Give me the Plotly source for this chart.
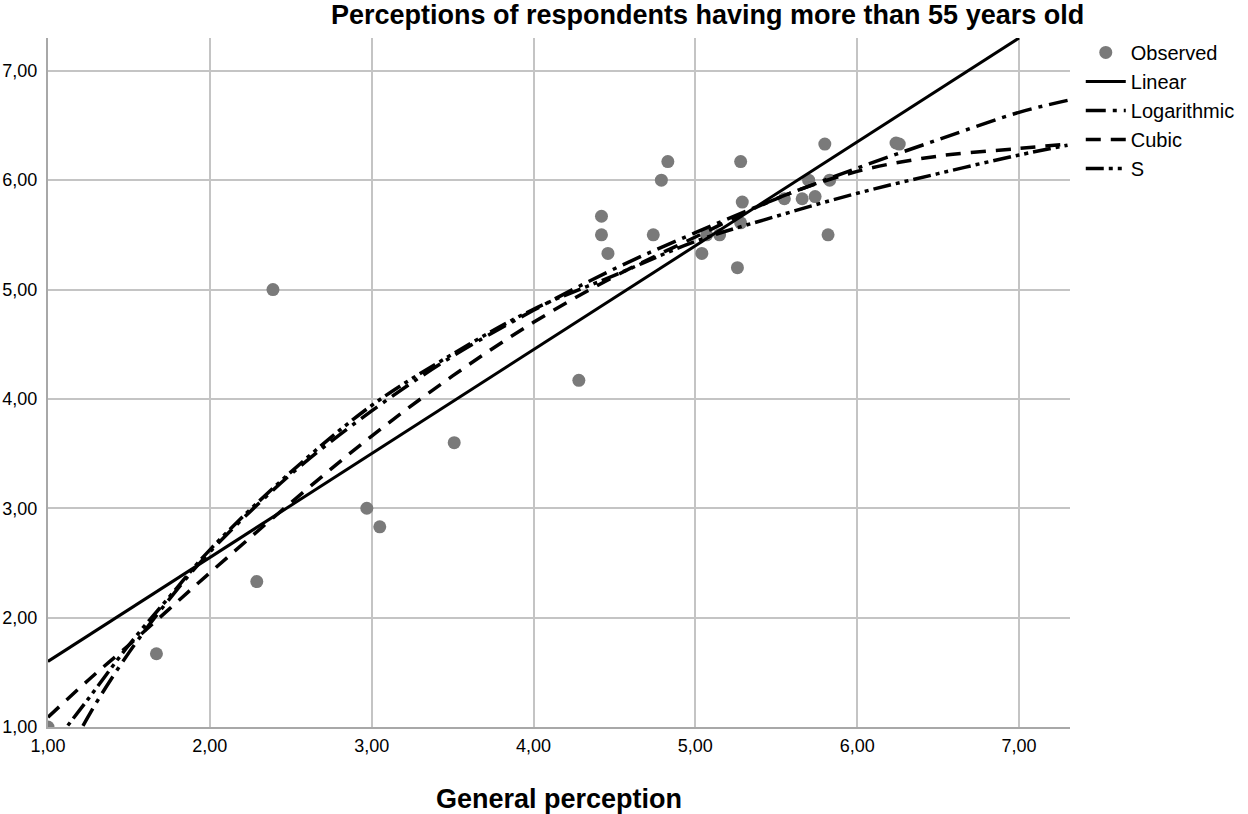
import plotly.graph_objects as go

# observed points
obs_x = [1.00, 1.67, 2.29, 2.39, 2.97, 3.05, 3.51, 4.28, 4.42, 4.42, 4.46, 4.74, 4.79, 4.83, 5.04,
         5.07, 5.15, 5.26, 5.28, 5.28, 5.29, 5.55, 5.66, 5.70, 5.74, 5.80, 5.82, 5.83, 6.24, 6.26]
obs_y = [1.00, 1.67, 2.33, 5.00, 3.00, 2.83, 3.60, 4.17, 5.67, 5.50, 5.33, 5.50, 6.00, 6.17, 5.33,
         5.50, 5.50, 5.20, 6.17, 5.61, 5.80, 5.83, 5.83, 6.00, 5.85, 6.33, 5.50, 6.00, 6.34, 6.33]

# fitted curves, values
lin_x = [1.00, 7.00]
lin_y = [1.60, 7.30]

fit_x = [1.00, 1.25, 1.50, 1.75, 2.00, 2.50, 3.00, 3.50, 4.00, 4.50, 5.00, 5.50, 6.00, 6.50, 7.00, 7.30]
log_y = [0.39, 1.10, 1.68, 2.17, 2.60, 3.31, 3.89, 4.39, 4.81, 5.19, 5.52, 5.83, 6.11, 6.37, 6.62, 6.73]
cubic_y = [1.09, 1.43, 1.75, 2.08, 2.41, 3.05, 3.66, 4.21, 4.70, 5.12, 5.48, 5.83, 6.08, 6.22, 6.29, 6.33]
s_y = [0.78, 1.26, 1.75, 2.19, 2.62, 3.33, 3.94, 4.41, 4.82, 5.13, 5.44, 5.67, 5.88, 6.06, 6.23, 6.32]

tick_vals = [1, 2, 3, 4, 5, 6, 7]

FONT = "Liberation Sans, Arial, sans-serif"

fig = go.Figure()
fig.add_trace(go.Scatter(x=obs_x, y=obs_y, mode="markers", name="Observed", legendgroup="a",
                         marker=dict(color="#7a7a7a", size=13)))
fig.add_trace(go.Scatter(x=lin_x, y=lin_y, mode="lines", name="Linear", legendgroup="b",
                         line=dict(color="black", width=3)))
fig.add_trace(go.Scatter(x=fit_x, y=log_y, mode="lines", name="Logarithmic", legendgroup="c",
                         line=dict(color="black", width=3.5, shape="spline", dash="20px,7px,4px,7px")))
fig.add_trace(go.Scatter(x=fit_x, y=cubic_y, mode="lines", name="Cubic", legendgroup="d",
                         line=dict(color="black", width=3.5, shape="spline", dash="15px,10px")))
fig.add_trace(go.Scatter(x=fit_x, y=s_y, mode="lines", name="S", legendgroup="e",
                         line=dict(color="black", width=3.5, shape="spline", dash="18px,5px,4px,5px,4px,5px")))

fig.update_layout(
    width=1248,
    height=814,
    separators=",.",
    plot_bgcolor="white",
    paper_bgcolor="white",
    font=dict(family=FONT, color="black", size=18),
    title=dict(text="<b>Perceptions of respondents having more than 55 years old</b>",
               x=0.567, xanchor="center", y=0.982, yanchor="middle",
               font=dict(size=27, family=FONT)),
    margin=dict(l=48, r=178, t=38, b=87),
    showlegend=True,
    # legend placed in container coords so it does not push the right margin
    legend=dict(xref="container", yref="container", x=0.866, y=0.9595,
                xanchor="left", yanchor="top", traceorder="grouped",
                tracegroupgap=0, itemwidth=40, font=dict(size=20), bgcolor="rgba(0,0,0,0)"),
    xaxis=dict(range=[1, 7.315], tickvals=tick_vals, tickformat=".2f",
               showgrid=True, gridcolor="#c4c4c4", gridwidth=2,
               showline=True, linecolor="#a8a8a8", linewidth=2, zeroline=False,
               ticks="", tickfont=dict(size=18), ticklabelstandoff=1, automargin=False,
               title=dict(text="<b>General perception</b>", font=dict(size=27), standoff=40)),
    yaxis=dict(range=[1, 7.30], tickvals=tick_vals, tickformat=".2f",
               showgrid=True, gridcolor="#c4c4c4", gridwidth=2,
               showline=True, linecolor="#a8a8a8", linewidth=2, zeroline=False,
               ticks="", tickfont=dict(size=18), ticklabelstandoff=5, automargin=False),
)

fig.write_html("out.html", config={"displayModeBar": False},
               post_script="document.body.style.margin='0';")
